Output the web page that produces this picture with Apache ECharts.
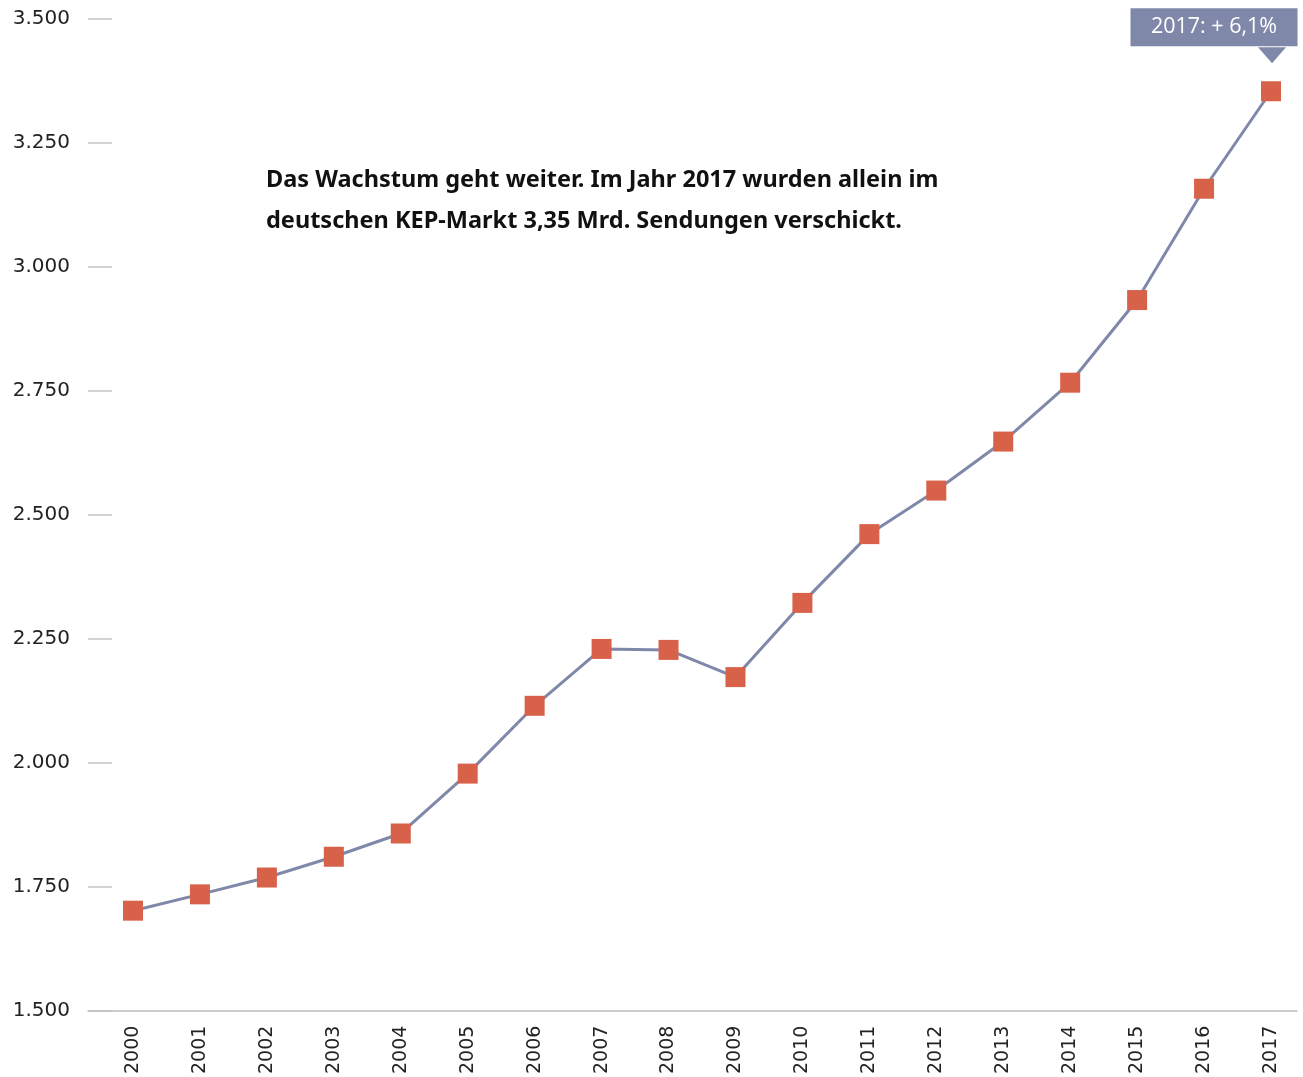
<!DOCTYPE html>
<html><head><meta charset="utf-8">
<script src="https://cdn.jsdelivr.net/npm/echarts@6/dist/echarts.min.js"></script>
<style>html,body{margin:0;padding:0;background:#fff}#c{width:1303px;height:1077px}</style>
</head><body><div id="c"></div>
<script>
const years = ['2000','2001','2002','2003','2004','2005','2006','2007','2008','2009','2010','2011','2012','2013','2014','2015','2016','2017'];
const shipments = [1698,1731,1765,1807,1854,1975,2112,2227,2225,2170,2320,2459,2547,2646,2765,2932,3157,3354];
const yTicks = [1500,1750,2000,2250,2500,2750,3000,3250,3500];
const headline = 'Das Wachstum geht weiter. Im Jahr 2017 wurden allein im\ndeutschen KEP-Markt 3,35 Mrd. Sendungen verschickt.';
const calloutText = '2017: + 6,1%';

const lineColor = '#7f88a9';
const markColor = '#d8614a';
const fmt = v => String(v).replace(/\B(?=(\d{3})+(?!\d))/g, '.');
const chart = echarts.init(document.getElementById('c'));
const last = shipments.length - 1;
chart.setOption({
  animation: false,
  title: {
    text: headline, left: 261, top: 155,
    textStyle: {fontFamily: 'Noto Sans', fontWeight: 'bold', fontSize: 23.5, lineHeight: 41, color: '#111'}
  },
  grid: [
    {left: 88, right: 6, top: 19, bottom: 66},
    {left: 133, right: 32, top: 19, bottom: 66}
  ],
  xAxis: [
    {gridIndex: 0, type: 'category', data: years, boundaryGap: false,
     axisLine: {lineStyle: {color: '#bdbdbd', width: 1.5}}, axisTick: {show: false}, axisLabel: {show: false}},
    {gridIndex: 1, type: 'category', data: years, boundaryGap: false,
     axisLine: {show: false}, axisTick: {show: false},
     axisLabel: {rotate: 90, margin: 17, fontFamily: 'DejaVu Sans', fontSize: 19, color: '#222'}}
  ],
  yAxis: [
    {gridIndex: 0, type: 'value', min: yTicks[0], max: yTicks[yTicks.length-1], interval: 250,
     axisLine: {show: false}, splitLine: {show: false},
     axisTick: {show: true, inside: true, length: 24, lineStyle: {color: '#c4c4c4', width: 1.5}},
     axisLabel: {formatter: fmt, margin: 18, fontFamily: 'DejaVu Sans', fontSize: 20, color: '#222'}},
    {gridIndex: 1, type: 'value', min: yTicks[0], max: yTicks[yTicks.length-1], interval: 250, show: false}
  ],
  series: [{
    type: 'line', xAxisIndex: 1, yAxisIndex: 1,
    data: shipments.map((v, i) => i === last ? {
      value: v,
      label: {show: true, formatter: calloutText, position: 'top', offset: [-57, -30],
        backgroundColor: lineColor, color: '#fff', fontFamily: 'Open Sans', fontSize: 21.5,
        padding: [8, 18, 8, 18], width: 131, align: 'center'}
    } : v),
    symbol: 'rect', symbolSize: 20,
    lineStyle: {color: lineColor, width: 3},
    itemStyle: {color: markColor},
    markPoint: {
      symbol: 'triangle', symbolRotate: 180, symbolSize: [28, 16], symbolOffset: [1, -36],
      itemStyle: {color: lineColor}, label: {show: false},
      data: [{coord: [years[last], shipments[last]]}]
    }
  }]
});
</script></body></html>
